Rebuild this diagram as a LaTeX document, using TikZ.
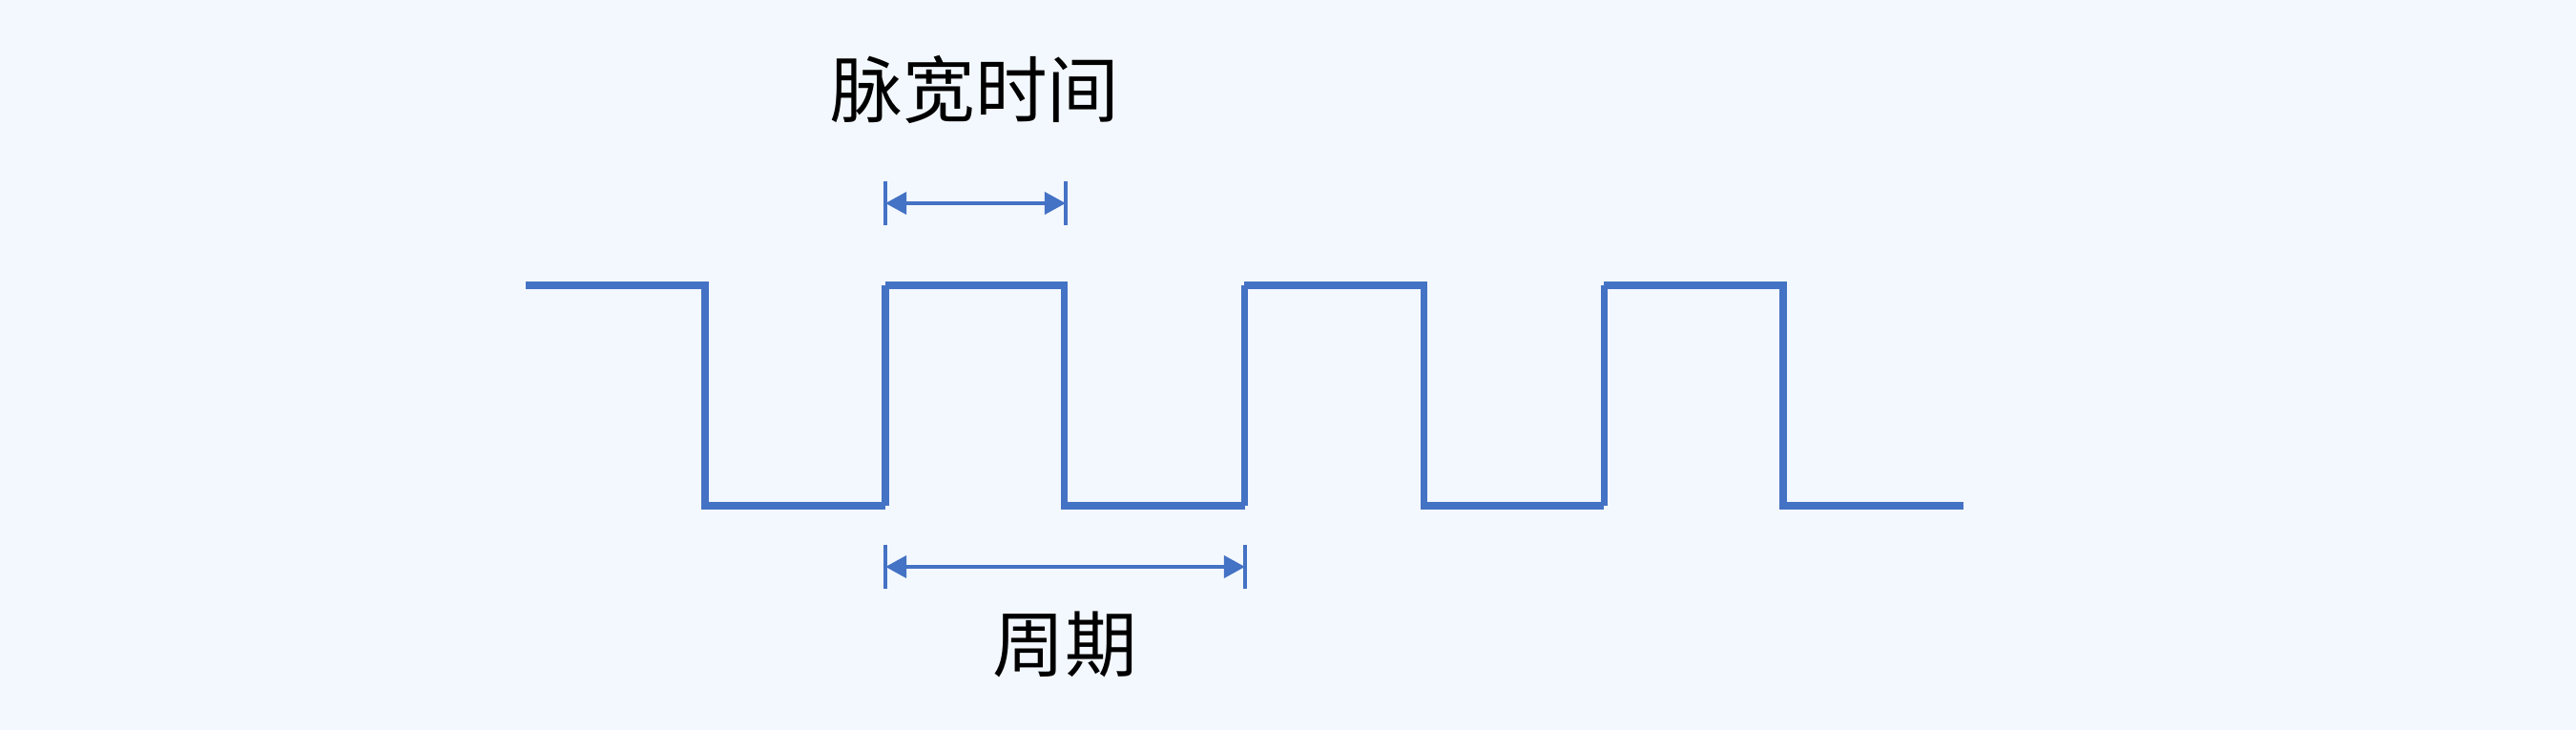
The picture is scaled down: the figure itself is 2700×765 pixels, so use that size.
\documentclass[tikz,border=0pt]{standalone}
\usepackage{fontspec}
\newfontfamily\cjk{Noto Sans CJK SC}
\usetikzlibrary{arrows.meta,positioning}
\definecolor{wave}{HTML}{4472C4}
\definecolor{paper}{HTML}{F3F8FE}

\begin{document}
\begin{tikzpicture}[x=0.01cm,y=-0.01cm,>={Triangle[length=6.3pt,width=6.5pt]}]
 \tikzstyle{signal}=[draw=wave,line width=2.1pt]
 \tikzstyle{tick}=[draw=wave,line width=1.3pt]
 \tikzstyle{span}=[draw=wave,line width=1.3pt,<->,fill=wave]
 \tikzstyle{label}=[font=\cjk\fontsize{21.5pt}{24pt}\selectfont,text=black,inner sep=0pt]

\fill[paper] (0,0) rectangle (2700,765);

% square wave
\foreach \k in {0,...,3}
  \draw[signal] ({551+376.7*\k},299) -- ({739+376.7*\k},299) -- ({739+376.7*\k},530) -- ({928+376.7*\k},530);
\foreach \k in {0,...,2}
  \draw[signal] ({928+376.7*\k},530) -- ({928+376.7*\k},299);

% measuring points
\coordinate (pw-l)  at (928,213);
\coordinate (pw-r)  at (1117,213);
\coordinate (per-l) at (928,594);
\coordinate (per-r) at (1305,594);

\foreach \c in {pw-l,pw-r,per-l,per-r}
  \draw[tick] (\c) ++(0,-23) -- ++(0,46);

\path (pw-l)  edge[span] (pw-r)
      (per-l) edge[span] (per-r);

\node[label] (pulse)  at (1022,94)  {脉宽时间};
\node[label] (period) at (1116,675) {周期};
\end{tikzpicture}
\end{document}
